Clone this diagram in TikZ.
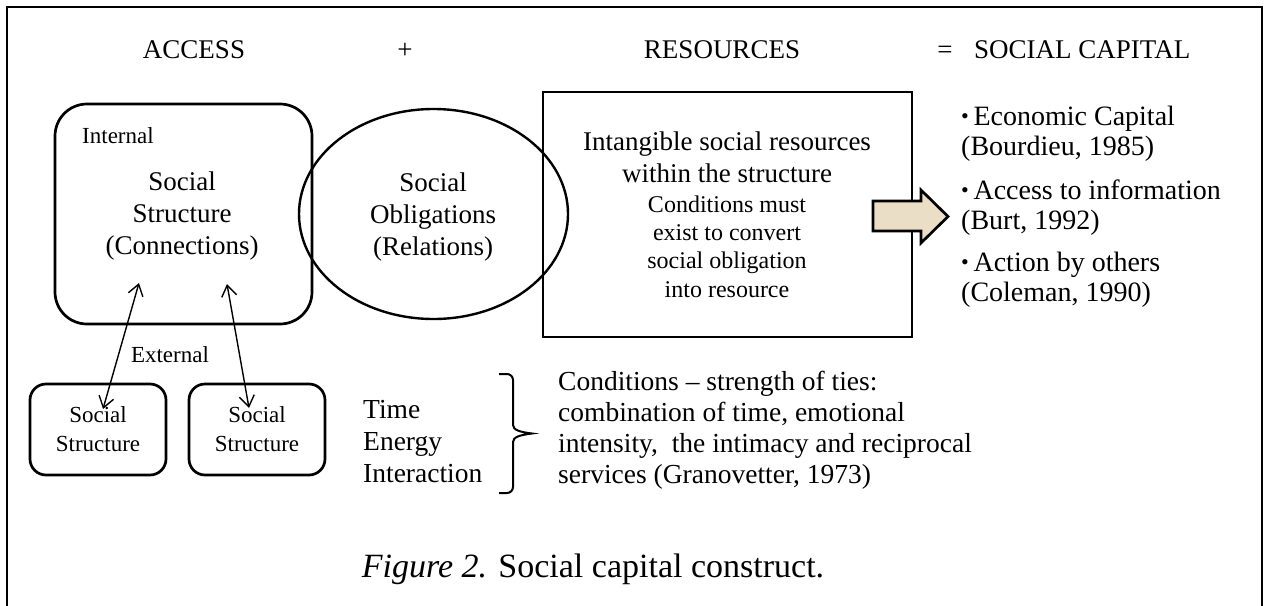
\documentclass[tikz,border=0pt]{standalone}
\usepackage{fontspec}
\setmainfont{Liberation Serif}
\usetikzlibrary{arrows.meta,shapes.geometric}
\definecolor{arrowtan}{RGB}{234,222,198}
\tikzset{
  hdr/.style={font=\fontsize{27}{32}\selectfont, anchor=base, inner sep=0pt},
  bigtxt/.style={font=\fontsize{27}{32}\selectfont, align=center, anchor=base, inner sep=0pt},
  smalltxt/.style={font=\fontsize{23}{28}\selectfont, inner sep=0pt},
  righttxt/.style={font=\fontsize{28}{30}\selectfont, align=left, anchor=base west, inner sep=0pt},
  shapeline/.style={draw, line width=2.7pt},
  smallbox/.style={shapeline, rounded corners=16pt, minimum width=136pt, minimum height=91pt, align=center, font=\fontsize{23}{29}\selectfont, inner sep=0pt},
  dblarrow/.style={line width=1.4pt, {Straight Barb[length=11pt,width=15pt]}-{Straight Barb[length=11pt,width=15pt]}}
}
\newcommand{\blt}{{\fontsize{22}{22}\selectfont\raisebox{2pt}{•}}\,}
\begin{document}
\begin{tikzpicture}[x=1pt,y=-1pt]
\useasboundingbox (0,0) rectangle (1268,605);
% outer frame
\draw[line width=2.7pt] (7,640) -- (7,7) -- (1262,7) -- (1262,640);
% header
\node[hdr] (access) at (194,58) {ACCESS};
\node[hdr] (plus) at (405,58) {+};
\node[hdr] (res) at (722,58) {RESOURCES};
\node[hdr] (eq) at (945,58) {=};
\node[hdr, anchor=base west] (sc) at (974,58) {SOCIAL CAPITAL};
% internal box
\node[shapeline, rounded corners=32pt, minimum width=257pt, minimum height=220pt] (ibox) at (183.5,214) {};
\node[smalltxt, anchor=base west] (internal) at (82,143) {Internal};
\node[bigtxt] (sstxt) at (182,254) {Social\\Structure\\(Connections)};
% ellipse
\node[shapeline, ellipse, line width=2.4pt, minimum width=269pt, minimum height=210pt] (ell) at (433.5,214) {};
\node[bigtxt] (sotxt) at (433,255) {Social\\Obligations\\(Relations)};
% rectangle
\node[shapeline, minimum width=369pt, minimum height=245pt] (rect) at (727.5,214.5) {};
\node[bigtxt] (intang) at (727,182) {Intangible social resources\\within the structure};
\node[bigtxt, font=\fontsize{24}{28.3}\selectfont] (condtxt) at (727,297) {Conditions must\\exist to convert\\social obligation\\into resource};
% block arrow
\draw[line width=2.7pt, fill=arrowtan, line join=miter] (873,201) -- (921,201) -- (921,190) -- (948,216.5) -- (921,243) -- (921,231) -- (873,231) -- cycle;
% right list
\node[righttxt] (r1) at (961,155) {\blt Economic Capital\\(Bourdieu, 1985)};
\node[righttxt] (r2) at (961,229) {\blt Access to information\\(Burt, 1992)};
\node[righttxt] (r3) at (961,301) {\blt Action by others\\(Coleman, 1990)};
% small boxes
\node[smallbox] (sb1) at (98,429.5) {Social\\Structure};
\node[smallbox] (sb2) at (257,429.5) {Social\\Structure};
\node[smalltxt, anchor=base] (ext) at (170,362) {External};
% double arrows
\coordinate (a1t) at (139,283);
\coordinate (a1b) at (103,409);
\coordinate (a2t) at (227,284);
\coordinate (a2b) at (249,408);
\draw[dblarrow] (a1t) -- (a1b);
\draw[dblarrow] (a2t) -- (a2b);
% time energy interaction
\node[righttxt, font=\fontsize{27.5}{32}\selectfont] (tei) at (363,482) {Time\\Energy\\Interaction};
% brace
\draw[line width=2pt] (499,374) -- (507,374) to[out=0,in=90] (513,380) -- (513,425) .. controls (513,430) and (520,432) .. (532,433.5) .. controls (520,435) and (513,437) .. (513,442) -- (513,487) to[out=-90,in=0] (507,493) -- (499,493);
% conditions text
\node[righttxt, font=\fontsize{27.5}{31}\selectfont] (gran) at (558,483) {Conditions – strength of ties:\\combination of time, emotional\\intensity,\ \ the intimacy and reciprocal\\services (Granovetter, 1973)};
% caption
\node[hdr, font=\fontsize{34}{40}\selectfont] (cap) at (593,577) {\textit{Figure 2.} Social capital construct.};
\end{tikzpicture}
\end{document}
